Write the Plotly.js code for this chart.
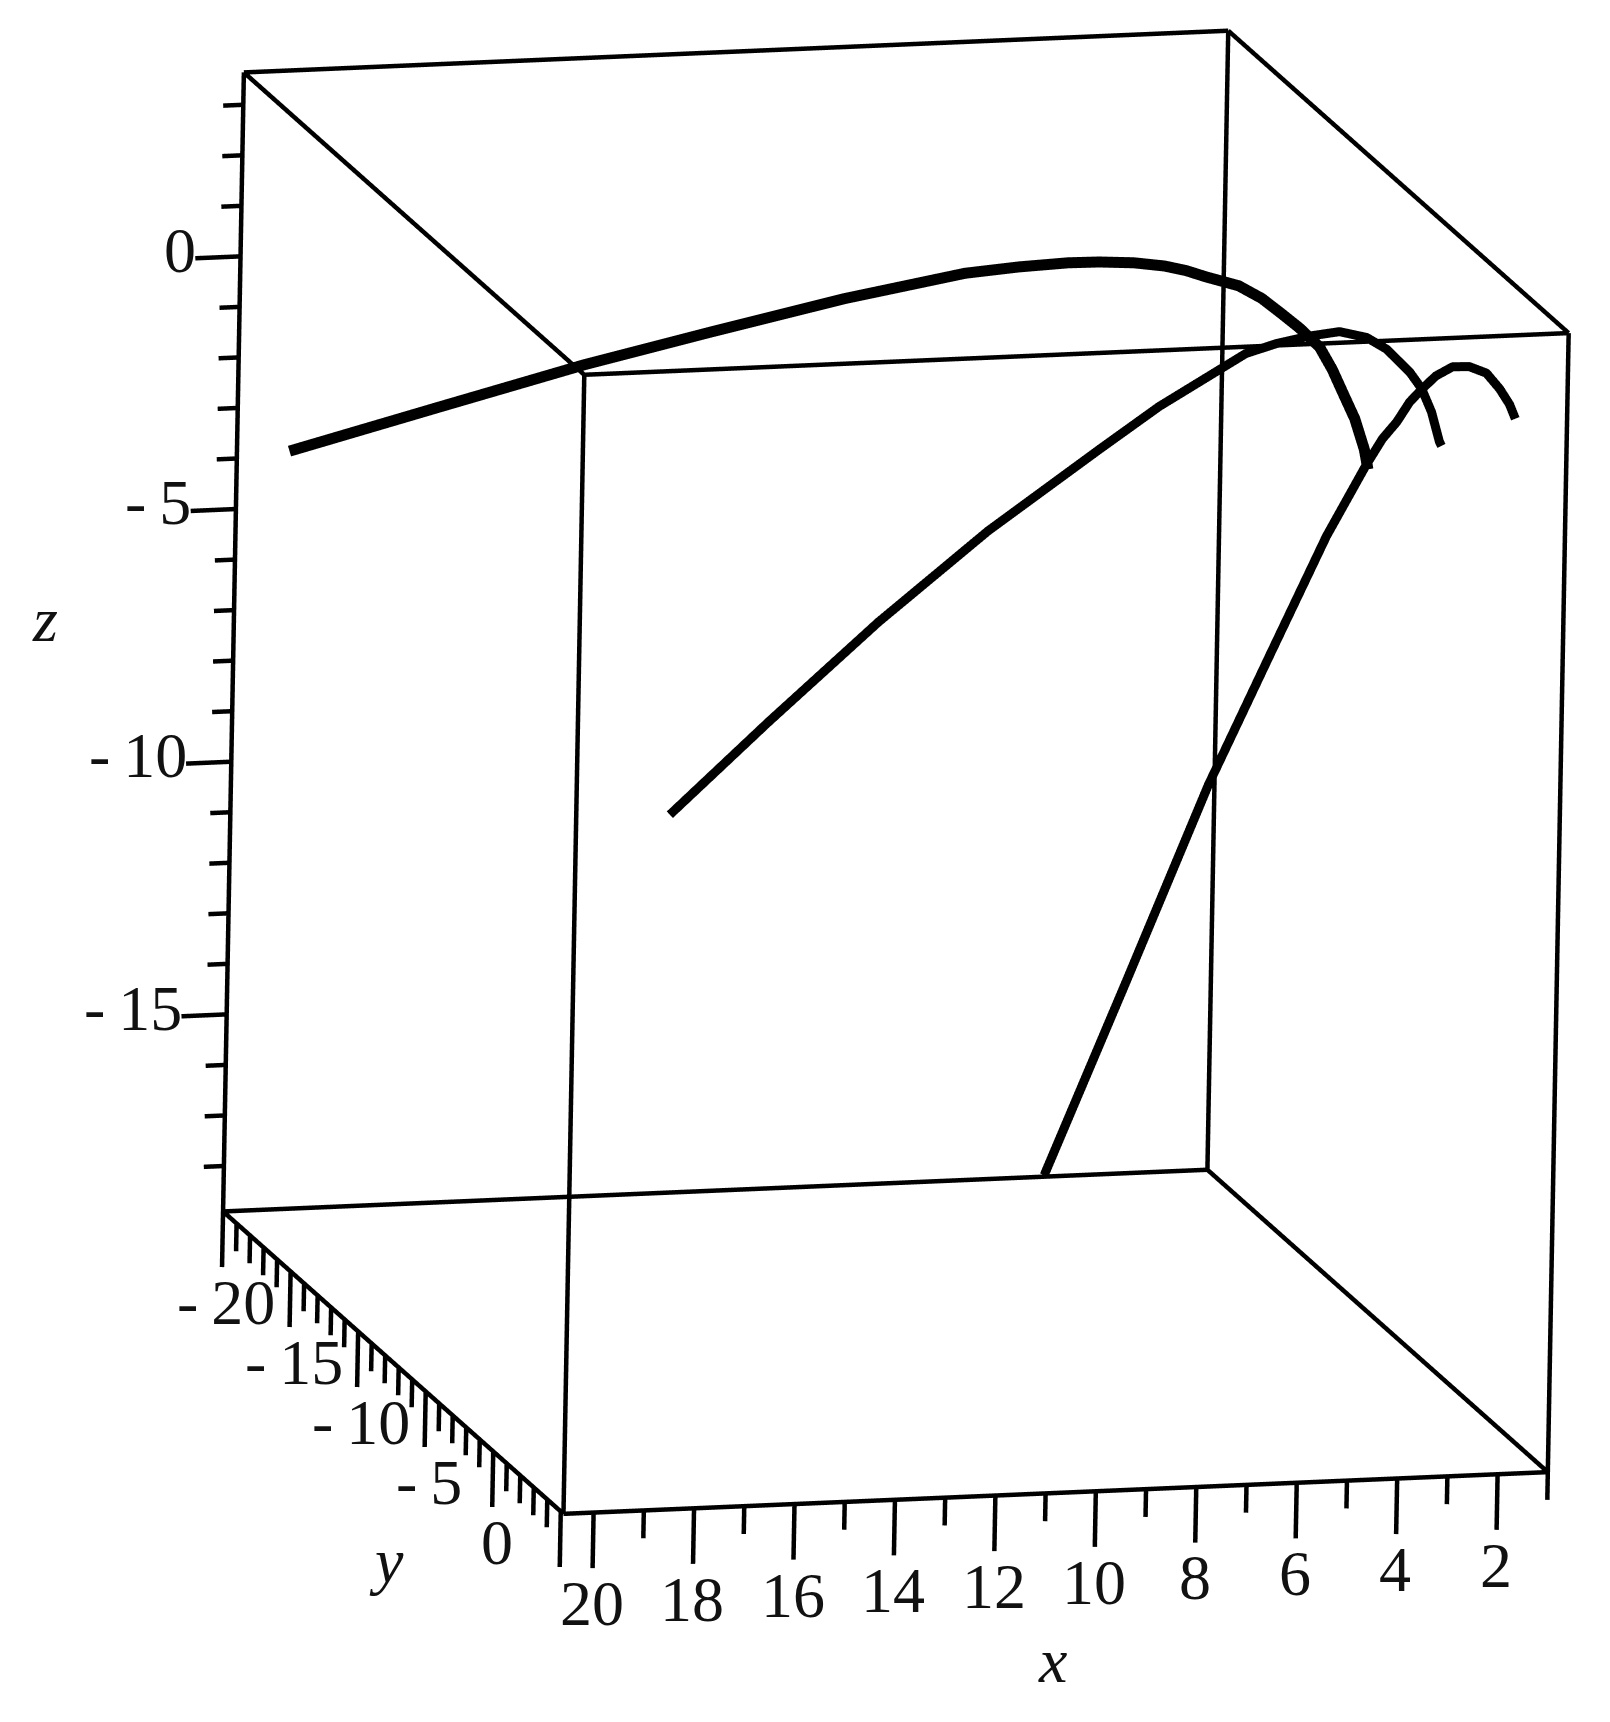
<!DOCTYPE html>
<html>
<head>
<meta charset="utf-8">
<script src="https://cdn.plot.ly/plotly-3.0.1.min.js"></script>
<style>
  html, body { margin: 0; padding: 0; background: #fff; }
  #chart { width: 1610px; height: 1722px; }
</style>
</head>
<body>
<div id="chart"></div>
<script>
"use strict";
// curves
const curve1X = [20.1, 17.43, 14.81, 12.53, 10.19, 8.07, 7.11, 6.23, 5.68, 5.07, 4.51, 4.13, 3.79, 3.27, 2.97, 2.7, 2.48, 2.24, 2.14, 2.09, 2.03, 2.02, 2.05];
const curve1Y = [-18, -17, -16, -15, -14, -13, -12.6, -12.2, -12, -11.7, -11.5, -11.3, -11.1, -10.6, -10, -9.5, -9, -8.4, -7.8, -7.2, -6.5, -5.8, -5.4];
const curve1Z = [-3.4, -2.41, -1.44, -0.64, 0.15, 0.8, 0.98, 1.12, 1.16, 1.19, 1.15, 1.09, 1.0, 0.92, 0.8, 0.6, 0.43, 0.19, -0.12, -0.43, -0.79, -1.23, -1.53];

const curve2X = [17.86, 15.79, 13.5, 11.21, 8.88, 7.63, 6.35, 5.77, 5.09, 4.38, 3.72, 3.11, 2.65, 2.11, 1.83, 1.57, 1.32, 1.25];
const curve2Y = [2, 1.5, 1, 0.5, 0, -0.3, -0.6, -0.85, -1.1, -1.3, -1.55, -1.8, -2, -2.25, -2.4, -2.6, -2.9, -3];
const curve2Z = [-5.94, -4.31, -2.55, -0.96, 0.44, 1.16, 1.77, 2.0, 2.11, 2.18, 2.18, 1.98, 1.68, 1.14, 0.77, 0.25, -0.42, -0.53];

const curve3X = [4.25, 3.79, 3.31, 2.98, 2.69, 2.48, 2.43, 2.37, 2.31, 2.23, 2.15, 1.96, 1.74, 1.53, 1.45, 1.41, 1.43];
const curve3Y = [-20, -16, -12, -9, -6, -4, -3, -2.2, -1.5, -0.9, -0.2, 0.3, 0.7, 1.2, 1.9, 2.5, 3];
const curve3Z = [-18.87, -14.13, -9.29, -6.08, -2.97, -1.11, -0.34, 0.18, 0.74, 1.14, 1.56, 1.85, 1.94, 1.92, 1.77, 1.6, 1.44];

const boxX = [1, 20.6];
const boxY = [-20, 5.2];
const boxZ = [-18.9, 3.64];

const xTicks = [1, 2, 3, 4, 5, 6, 7, 8, 9, 10, 11, 12, 13, 14, 15, 16, 17, 18, 19, 20];
const yTicks = [-20, -19, -18, -17, -16, -15, -14, -13, -12, -11, -10, -9, -8, -7, -6, -5, -4, -3, -2, -1, 0, 1, 2, 3, 4, 5];
const zTicks = [-18, -17, -16, -15, -14, -13, -12, -11, -10, -9, -8, -7, -6, -5, -4, -3, -2, -1, 0, 1, 2, 3];

const xLabels = [2, 4, 6, 8, 10, 12, 14, 16, 18, 20];
const yLabels = [-20, -15, -10, -5, 0];
const zLabels = [-15, -10, -5, 0];

const labelFont = {family: "Liberation Serif", size: 64, color: "#111"};

function tickText(v) {
  return v < 0 ? "-\u2009" + Math.abs(v) : String(v);
}

// box edges and tick marks go in one line trace, null breaks the line
const frame = {x: [], y: [], z: []};
function segment(x0, y0, z0, x1, y1, z1) {
  frame.x.push(x0, x1, null);
  frame.y.push(y0, y1, null);
  frame.z.push(z0, z1, null);
}

boxY.forEach(y => boxZ.forEach(z => segment(boxX[0], y, z, boxX[1], y, z)));
boxX.forEach(x => boxZ.forEach(z => segment(x, boxY[0], z, x, boxY[1], z)));
boxX.forEach(x => boxY.forEach(y => segment(x, y, boxZ[0], x, y, boxZ[1])));

xTicks.forEach(t => segment(t, boxY[1], boxZ[0], t, boxY[1], boxZ[0] - (t % 2 === 0 ? 1.1 : 0.55)));
yTicks.forEach(t => segment(boxX[1], t, boxZ[0], boxX[1], t, boxZ[0] - (t % 5 === 0 ? 1.1 : 0.55)));
zTicks.forEach(t => segment(boxX[1], boxY[0], t, boxX[1] + (t % 5 === 0 ? 0.9 : 0.4), boxY[0], t));

const annotations = [];
function label(text, x, y, z, extra) {
  annotations.push(Object.assign({text: text, x: x, y: y, z: z, showarrow: false, font: labelFont}, extra));
}
xLabels.forEach(t => label(tickText(t), t, boxY[1], -20.7));
yLabels.forEach(t => label(tickText(t), boxX[1], t, -20.7, {xshift: 5}));
zLabels.forEach(t => label(tickText(t), boxX[1] + 0.85, boxY[0], t, {xanchor: "right", yshift: 8}));
label("<i>x</i>", 10.8, boxY[1], -22.3, {yshift: 4});
label("<i>y</i>", boxX[1], -7.85, -23, {yshift: 4, xshift: 3});
label("<i>z</i>", 24.36, boxY[0], -7.1, {yshift: 4});

function curve(x, y, z, width) {
  return {type: "scatter3d", mode: "lines", x: x, y: y, z: z, line: {color: "#000", width: width}, hoverinfo: "skip"};
}

const data = [
  curve(frame.x, frame.y, frame.z, 9),
  curve(curve1X, curve1Y, curve1Z, 22),
  curve(curve2X, curve2Y, curve2Z, 18),
  curve(curve3X, curve3Y, curve3Z, 18),
];

function hiddenAxis(range) {
  return {
    range: range, autorange: false, title: {text: ""},
    showgrid: false, zeroline: false, showline: false, showticklabels: false,
    showbackground: false, showspikes: false, ticks: "",
  };
}

const center = {x: -0.01106, y: -0.00259, z: 0.02283};
const k = 3;
const layout = {
  width: 1610, height: 1722,
  margin: {l: 0, r: 0, t: 0, b: 0},
  paper_bgcolor: "#fff",
  showlegend: false,
  scene: {
    domain: {x: [0, 1], y: [0, 1]},
    xaxis: hiddenAxis([0.5, 25]),
    yaxis: hiddenAxis([-20.5, 5.7]),
    zaxis: hiddenAxis([-23.5, 4.1]),
    aspectmode: "manual",
    aspectratio: {x: 1.4775, y: 1.623, z: 1.664},
    camera: {
      projection: {type: "orthographic"},
      center: center,
      eye: {x: center.x + 0.2507 * k, y: center.y + 0.9414 * k, z: center.z + 0.2281 * k},
      up: {x: -0.041, y: -0.225, z: 0.9737},
    },
    annotations: annotations,
  },
};

Plotly.newPlot("chart", data, layout, {displayModeBar: false});
</script>
</body>
</html>
